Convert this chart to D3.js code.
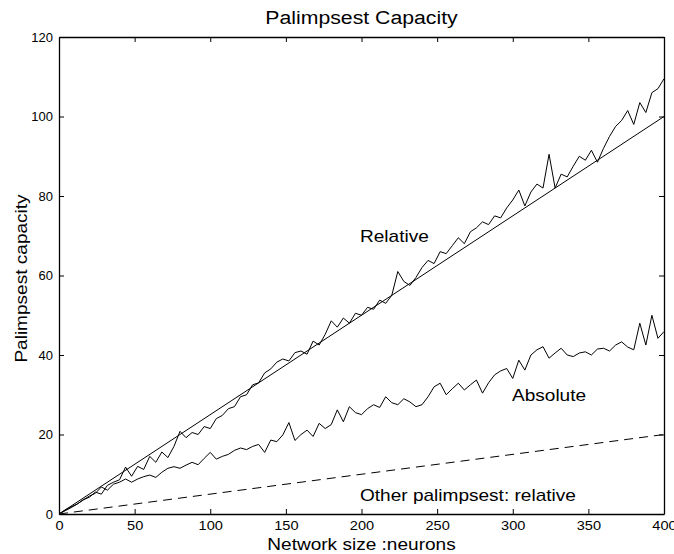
<!DOCTYPE html>
<html>
<head>
<meta charset="utf-8">
<script src="https://cdn.jsdelivr.net/npm/d3@7"></script>
<style>
  body { margin: 0; background: #fff; }
  svg { font-family: "Liberation Sans", Arial, sans-serif; }
</style>
</head>
<body>
<div id="chart"></div>
<script>
// network sizes, sampled every 4 neurons
const sizes = d3.range(0, 401, 4);

// measured relative palimpsest capacity
const relative = [
  0, 1.0, 1.8, 2.5, 3.6, 4.2, 5.5, 5.0, 7.2, 8.0,
  8.6, 11.8, 9.5, 12.0, 11.2, 14.5, 13.0, 15.6, 14.2, 17.0,
  20.8, 19.2, 20.5, 20.0, 22.0, 21.5, 24.0, 24.8, 26.5, 27.0,
  29.5, 30.0, 32.5, 33.0, 35.5, 36.5, 38.2, 39.0, 38.5, 40.6,
  41.0, 40.2, 43.5, 42.5, 45.2, 48.6, 47.0, 49.3, 48.0, 50.5,
  50.0, 52.0, 51.5, 53.8, 53.0, 55.0, 61.0, 58.5, 57.5, 59.5,
  62.0, 63.8, 63.0, 66.0, 65.5, 67.5, 69.5, 68.0, 71.0, 72.0,
  73.5, 72.8, 75.0, 74.5, 77.0, 79.0, 81.5, 77.5, 81.0, 83.0,
  82.0, 90.5, 82.0, 85.5, 84.8, 87.5, 90.0, 89.0, 91.5, 88.5,
  92.0, 95.0, 97.5, 99.0, 101.5, 98.0, 103.5, 101.0, 106.0, 107.0,
  109.5
];

// measured absolute palimpsest capacity
const absolute = [
  0, 0.8, 1.6, 2.5, 3.5, 4.5, 5.2, 6.8, 6.0, 7.5,
  8.0, 8.8, 8.0, 8.8, 9.4, 9.8, 9.2, 10.5, 11.5, 11.9,
  11.5, 12.3, 13.0, 12.4, 14.0, 15.5, 13.8, 14.5, 15.0, 16.0,
  16.6, 16.2, 17.0, 17.5, 15.5, 18.6, 18.2, 19.9, 23.0, 18.5,
  20.0, 21.1, 19.5, 22.8, 21.5, 22.5, 26.2, 23.2, 27.0, 25.5,
  25.0, 26.5, 27.5, 26.8, 29.5, 28.0, 27.5, 29.0, 28.2, 27.0,
  27.5, 29.5, 32.0, 32.9, 30.0, 31.5, 32.9, 31.2, 32.5, 33.7,
  30.4, 33.0, 35.0, 36.0, 36.6, 34.1, 38.7, 36.2, 40.0, 41.3,
  42.1, 39.2, 40.5, 41.7, 40.0, 39.6, 40.5, 40.8, 40.0, 41.5,
  41.7, 41.0, 42.5, 43.3, 42.0, 41.3, 48.0, 42.5, 50.0, 44.2,
  45.9
];

// theoretical lines (end points)
const theoryX = [0, 400];
const theoryRelative = [0, 100];
const otherRelative = [0, 20];

const xTicks = [0, 50, 100, 150, 200, 250, 300, 350, 400];
const yTicks = [0, 20, 40, 60, 80, 100, 120];

const width = 674, height = 554;
const margin = { top: 37, right: 10, bottom: 40, left: 59 };
const w = width - margin.left - margin.right;
const h = height - margin.top - margin.bottom;

const svg = d3.select("#chart").append("svg")
  .attr("width", width)
  .attr("height", height);

const g = svg.append("g")
  .attr("transform", "translate(" + margin.left + "," + margin.top + ")");

const x = d3.scaleLinear().domain([0, 400]).range([0, w]);
const y = d3.scaleLinear().domain([0, 120]).range([h, 0]);

// the original text is a bit wider than Liberation Sans
function stretch(sel, k) {
  sel.each(function() {
    const len = this.getComputedTextLength();
    d3.select(this).attr("textLength", len * k).attr("lengthAdjust", "spacingAndGlyphs");
  });
}

// axes, ticks pointing inward
const axisStyle = sel => {
  sel.selectAll("path.domain").attr("stroke", "#000").attr("stroke-width", 1.3);
  sel.selectAll(".tick line").attr("stroke", "#000");
  sel.selectAll(".tick text").attr("fill", "#000").style("font-size", "13px");
};

g.append("g")
  .attr("transform", "translate(0," + h + ")")
  .call(d3.axisBottom(x).tickValues(xTicks).tickSizeInner(-5).tickSizeOuter(0).tickPadding(7))
  .call(axisStyle)
  .call(a => stretch(a.selectAll(".tick text"), 1.12));

g.append("g")
  .call(d3.axisTop(x).tickValues(xTicks).tickSizeInner(-5).tickSizeOuter(0).tickFormat(""))
  .call(axisStyle);

g.append("g")
  .call(d3.axisLeft(y).tickValues(yTicks).tickSizeInner(-5).tickSizeOuter(0).tickPadding(6))
  .call(axisStyle);

g.append("g")
  .attr("transform", "translate(" + w + ",0)")
  .call(d3.axisRight(y).tickValues(yTicks).tickSizeInner(-5).tickSizeOuter(0).tickFormat(""))
  .call(axisStyle);

// lines
const line = d3.line().x(d => x(d[0])).y(d => y(d[1]));

g.append("path")
  .datum(theoryX.map((v, i) => [v, theoryRelative[i]]))
  .attr("d", line)
  .attr("fill", "none").attr("stroke", "#000").attr("stroke-width", 1);

g.append("path")
  .datum(theoryX.map((v, i) => [v, otherRelative[i]]))
  .attr("d", line)
  .attr("fill", "none").attr("stroke", "#000").attr("stroke-width", 1)
  .attr("stroke-dasharray", "9,6");

g.append("path")
  .datum(sizes.map((v, i) => [v, relative[i]]))
  .attr("d", line)
  .attr("fill", "none").attr("stroke", "#000").attr("stroke-width", 1);

g.append("path")
  .datum(sizes.map((v, i) => [v, absolute[i]]))
  .attr("d", line)
  .attr("fill", "none").attr("stroke", "#000").attr("stroke-width", 1);

// annotations
const notes = g.append("g").style("font-size", "17px").attr("fill", "#000");
notes.append("text").attr("x", x(199)).attr("y", y(68.5)).text("Relative");
notes.append("text").attr("x", x(299.5)).attr("y", y(28.5)).text("Absolute");
notes.append("text").attr("x", x(199)).attr("y", y(3.3)).text("Other palimpsest: relative");
stretch(notes.selectAll("text"), 1.12);

// titles
const title = svg.append("text")
  .attr("x", margin.left + w / 2).attr("y", 24)
  .attr("text-anchor", "middle").style("font-size", "18px")
  .text("Palimpsest Capacity");

const xTitle = svg.append("text")
  .attr("x", margin.left + w / 2).attr("y", 550)
  .attr("text-anchor", "middle").style("font-size", "17px")
  .text("Network size :neurons");

const yTitle = svg.append("text")
  .attr("transform", "translate(27," + (margin.top + h / 2 + 3) + ") rotate(-90)")
  .attr("text-anchor", "middle").style("font-size", "17px")
  .text("Palimpsest capacity");

stretch(title, 1.18);
stretch(xTitle, 1.12);
stretch(yTitle, 1.12);
</script>
</body>
</html>
